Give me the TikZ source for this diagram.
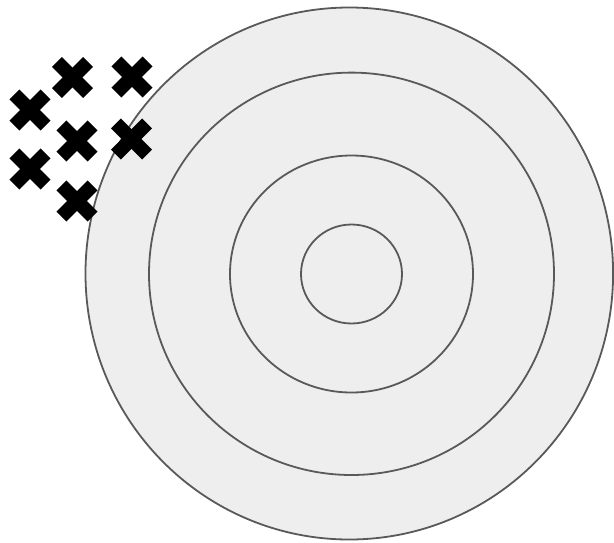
\documentclass[tikz,border=0pt]{standalone}
\usetikzlibrary{calc}
\definecolor{ringfill}{HTML}{EEEEEE}
\definecolor{ringline}{HTML}{595959}
\tikzset{
  ring/.style={draw=ringline, fill=ringfill, line width=1.8pt},
  xbar/.style={line width=14pt, line cap=butt, black},
}
\newcommand{\xmark}[3]{%
  \coordinate (#1) at (#2,#3);
  \draw[xbar] ($(#1)+(-15.6,-15.6)$) -- ($(#1)+(15.6,15.6)$);
  \draw[xbar] ($(#1)+(-15.6,15.6)$) -- ($(#1)+(15.6,-15.6)$);
}
\begin{document}
\begin{tikzpicture}[x=1pt,y=-1pt]
\useasboundingbox (0,0) rectangle (614,542);
\draw[ring] (349.3,273.5) ellipse [x radius=263.8, y radius=266];
\draw[ring] (351.5,273.8) ellipse [x radius=202.5, y radius=201.2];
\draw[ring] (351.5,274) ellipse [x radius=121.5, y radius=118.5];
\draw[ring] (351.5,274) ellipse [x radius=50.5, y radius=49.5];
\xmark{x1}{72.5}{77.5}
\xmark{x2}{132}{77}
\xmark{x3}{30}{110}
\xmark{x4}{77}{141}
\xmark{x5}{131.5}{139}
\xmark{x6}{30}{169}
\xmark{x7}{77}{201}
\end{tikzpicture}
\end{document}
